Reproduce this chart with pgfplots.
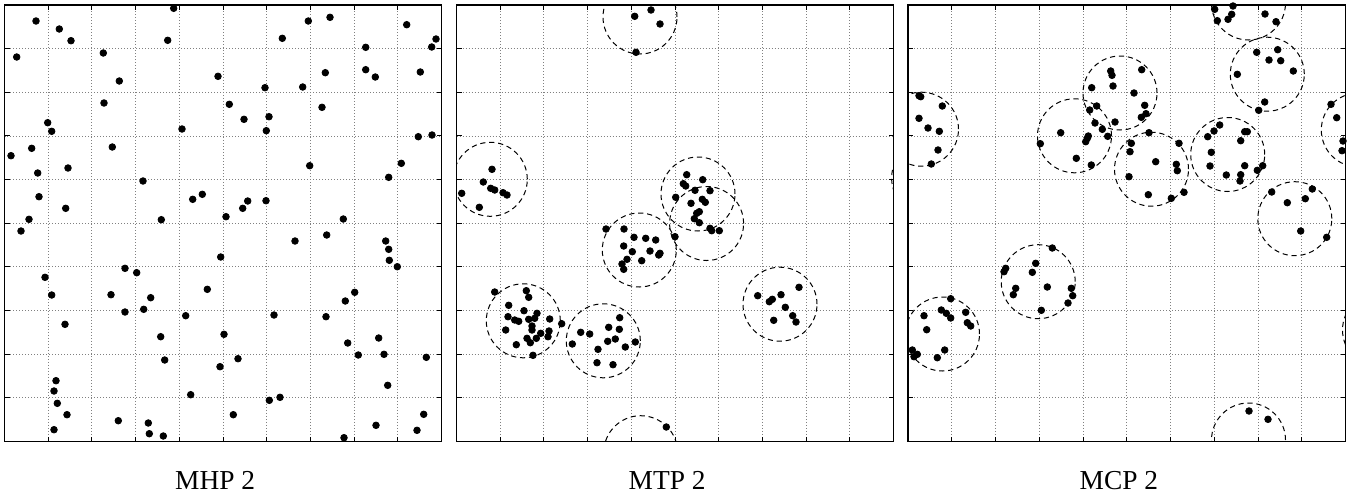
\documentclass[border=0pt]{standalone}
\usepackage{fontspec}
\setmainfont{Liberation Serif}
\usepackage{pgfplots}
\pgfplotsset{compat=1.18}
\tikzset{ring/.style={black, line width=0.5bp, dash pattern=on 2.6bp off 1.9bp}}
\pgfplotsset{
  panel/.style={
    scale only axis, height=218.25bp,
    y dir=reverse, ymin=5, ymax=441.5,
    ytick={5,48.65,...,441.5},
    xticklabels={}, yticklabels={},
    tick pos=both, tick align=inside,
    major tick length=2.5bp,
    every tick/.style={black, line width=0.5bp},
    axis line style={line width=0.65bp},
    grid=major,
    major grid style={line width=0.45bp, dash pattern=on 0.5bp off 1.0bp, black!50},
    anchor=south west,
    xlabel style={at={(axis description cs:0.482,0)}, anchor=base, yshift=-24.15bp, inner sep=0pt, font=\fontsize{13.7bp}{16bp}\selectfont},
  },
  dots/.style={only marks, mark=*, mark size=1.65bp, black},
}
\begin{document}
\begin{tikzpicture}
\useasboundingbox (0,0) rectangle (680.5bp,-247bp);
% ---------------- MHP 2 ----------------
\begin{axis}[panel, at={(2.25bp,-220.75bp)}, width=218.5bp,
  xmin=4.5, xmax=441.5, xtick={4.5,48.2,...,441.5},
  xlabel={MHP 2}]
\addplot[dots] coordinates {
(36,21) (59.3,29) (71,40.7) (16.7,57) (103.3,53) (119.3,81) (104,103) (173.7,8.3) (167.7,40.3) (218,76.3) (47.7,122.7) (51.7,131.3) (182,129) (31.7,148.3) (11,155.7) (112.3,147) (37.7,173) (68,168) (143,181) (39,196.7) (65.7,208.3) (192.7,199.3) (202.3,194.3) (29,219.3) (161.3,219.7) (226,216.7)
(308.3,21) (330,17.3) (282.3,38.3) (406.7,24.7) (436,39) (431.7,47) (365.7,47.3) (365.7,69.7) (375.3,77) (420.3,72) (325.3,72.7) (265,87.7) (302.7,87) (229.3,104.3) (244,119.3) (269,116.7) (266.3,130.7) (322,107.3) (418.3,136.7) (432,135) (309.7,165.7) (401.3,163.3) (388.7,177.3) (242.7,208.3) (247.7,201) (266,200.7) (343.3,219)
(21,231) (125,268.3) (136.7,272.7) (45,277.3) (51.7,295) (111,294.7) (150.7,297.7) (125,312) (143.7,309.3) (220.7,257) (207.3,289.3) (185.7,315.7) (65,324.3) (160.7,336.7) (224,334.3) (164.7,360) (220,366.7) (56,380.7) (54,391) (57.3,403.3) (67,414.7) (54,429.7) (118.3,420.7) (148.3,423) (149.3,433.7) (163.3,436) (190.7,394.7)
(295,241) (326.7,235) (385.7,241) (388.7,249.3) (389.3,260.3) (397.3,266.7) (354.7,292.3) (345.3,301) (274,315) (326,316.7) (238,358.7) (378.7,338) (347.7,343) (358.3,355) (384,354.3) (426.3,357.3) (387.7,385.3) (269.3,400.3) (280,397.3) (233.3,414.7) (423.7,414.3) (376,425.3) (417,430.3) (344,437.7)
};
\end{axis}
% ---------------- MTP 2 ----------------
\begin{axis}[panel, at={(228.25bp,-220.75bp)}, width=218.5bp,
  xmin=456.5, xmax=893.5, xtick={456.5,500.2,...,893.5},
  xlabel={MTP 2}]
\draw[ring] (axis cs:640,17) circle[radius=18.5bp];
\draw[ring] (axis cs:490.3,179.3) circle[radius=18.5bp];
\draw[ring] (axis cs:928.6,178) circle[radius=18.5bp];
\draw[ring] (axis cs:698,194) circle[radius=18.5bp];
\draw[ring] (axis cs:706.6,223.5) circle[radius=18.5bp];
\draw[ring] (axis cs:639.3,250) circle[radius=18.5bp];
\draw[ring] (axis cs:523.3,320.8) circle[radius=18.5bp];
\draw[ring] (axis cs:603.3,340.8) circle[radius=18.5bp];
\draw[ring] (axis cs:780,304.2) circle[radius=18.5bp];
\draw[ring] (axis cs:640.7,452.7) circle[radius=18.5bp];
\addplot[dots] coordinates {
(634.7,16.3) (651,10) (660,24) (636,52.3)
(492,169.3) (483.3,182) (490.7,188.3) (494.7,190) (503,192.7) (507,195) (461.7,193.3) (479.3,207.3)
(686.7,174.7) (702.7,179.7) (683.3,183.7) (685.7,186) (695,190.3) (710,190.7) (675.7,197.3) (691,203.3) (702.3,199.3) (705.3,202.3) (699.3,211.7) (696.7,213.3) (694.3,218.7) (699.3,222.7) (710,228.3) (711.7,230.7) (719.3,230.7)
(675,236.7) (606,229) (624,229) (634,237.3) (645.7,238.3) (655.7,240) (623.7,246) (632.3,251.7) (650,251) (658.7,255) (660,253.3) (627,259.3) (641.7,260.7) (622,264) (623.7,269.3)
(494.7,292) (526.3,290.7) (528.7,297.3) (508.7,305.3) (524,310.7) (508,316.7) (514.7,320) (518.7,321.3) (528.7,319.3) (537,313.3) (534.7,318.3) (532,326) (532,330) (549.7,319) (561.7,323.7) (505.7,330) (549,331) (540.7,333.3) (548,336.7) (536.3,338.3) (527,338.3) (530.3,342.7) (516.3,344.7) (533,355.3)
(572.3,344) (580.7,332.3) (589.7,334) (608.7,327.3) (619.7,317.7) (619.3,329.3) (607.7,341.3) (615.3,339) (635.3,342) (625.3,347) (598,349.3) (597,362.7) (613,364.7)
(757.7,295.7) (769.3,301.7) (772.3,299.3) (781,294.7) (799,287.3) (785.3,307.3) (792.7,315.7) (796,322) (773.7,320.3)
(666.3,427)
};
\end{axis}
% ---------------- MCP 2 ----------------
\begin{axis}[panel, at={(454bp,-220.75bp)}, width=218.75bp,
  xmin=908, xmax=1345.5, xtick={908,951.75,...,1345.5},
  xlabel={MCP 2}]
\draw[ring] (axis cs:921.5,129.2) circle[radius=18.5bp];
\draw[ring] (axis cs:1074.5,135.8) circle[radius=18.5bp];
\draw[ring] (axis cs:1120,93) circle[radius=18.5bp];
\draw[ring] (axis cs:1248.5,3) circle[radius=18.5bp];
\draw[ring] (axis cs:1267.3,74.2) circle[radius=18.5bp];
\draw[ring] (axis cs:1151.5,169.2) circle[radius=18.5bp];
\draw[ring] (axis cs:1227.7,154.5) circle[radius=18.5bp];
\draw[ring] (axis cs:1358.3,130) circle[radius=18.5bp];
\draw[ring] (axis cs:1294.8,218.7) circle[radius=18.5bp];
\draw[ring] (axis cs:1038.2,281.7) circle[radius=18.5bp];
\draw[ring] (axis cs:942.5,334) circle[radius=18.5bp];
\draw[ring] (axis cs:1248.5,440) circle[radius=18.5bp];
\draw[ring] (axis cs:1379.5,330) circle[radius=18.5bp];
\addplot[dots] coordinates {
(919,95.7) (920.7,96.7) (942.3,106) (919,118.3) (928,128) (939.3,131.3) (938,150) (931.3,164)
(1060.7,132.7) (1040.3,143.7) (1076.3,158.3) (1091.3,165) (1085.7,141.7) (1087.3,138.3) (1088.3,136) (1095,123) (1102.3,129.3) (1107.7,136.3) (1089.7,110) (1096.7,106)
(1091.7,87.7) (1110.7,71) (1112,75.3) (1113,86) (1115,122) (1141.7,69.7) (1134,93) (1144.7,105.3) (1146,113.7) (1141.3,117.3)
(1214.7,9.3) (1217.3,20.7) (1233,6) (1231.7,14.3) (1228,19.3) (1265,14) (1276,21.7)
(1256.7,52.3) (1277.7,49.7) (1269,60) (1280.7,60.7) (1293.3,71) (1237.3,74.3) (1264.7,102) (1258.7,110.3)
(1149,132.7) (1131.3,143.3) (1130,151.7) (1155.7,161.7) (1179,143.3) (1176.3,164.3) (1177.3,170.7) (1129,176.7) (1148.3,194.7) (1171.3,198.3) (1184,192.3)
(1219.7,125) (1214,131) (1207.7,136.7) (1244.7,131.7) (1247.3,131.7) (1240.7,140.7) (1211.3,152.3) (1210,166) (1226.3,175) (1244.7,165.7) (1240.7,174.7) (1240,181) (1257.3,170.3) (1262.7,165.7)
(1331,104.3) (1336.7,117.7) (1343,141) (1342,150.7)
(1271.7,192) (1287.3,202.7) (1305.3,198.7) (1312.3,189) (1300.7,231) (1326.7,237.3)
(1052.3,248) (1035.7,263.3) (1032.3,272.3) (1004,271.7) (1005.7,268.3) (1047.3,287) (1015.7,288.3) (1013.3,294.7) (1071.3,288.3) (1072.7,295.7) (1068,303) (1041.3,310.3)
(950.7,298.7) (941.3,310) (946.3,313.3) (950.7,318) (924,315.7) (965.7,312.3) (967.3,322.7) (970.7,326) (926.7,329.7) (912.3,350) (914,356.7) (917.3,354.3) (944.7,350) (937.3,357.7)
(1249,411) (1268,419.3)
};
\end{axis}
\end{tikzpicture}
\end{document}
